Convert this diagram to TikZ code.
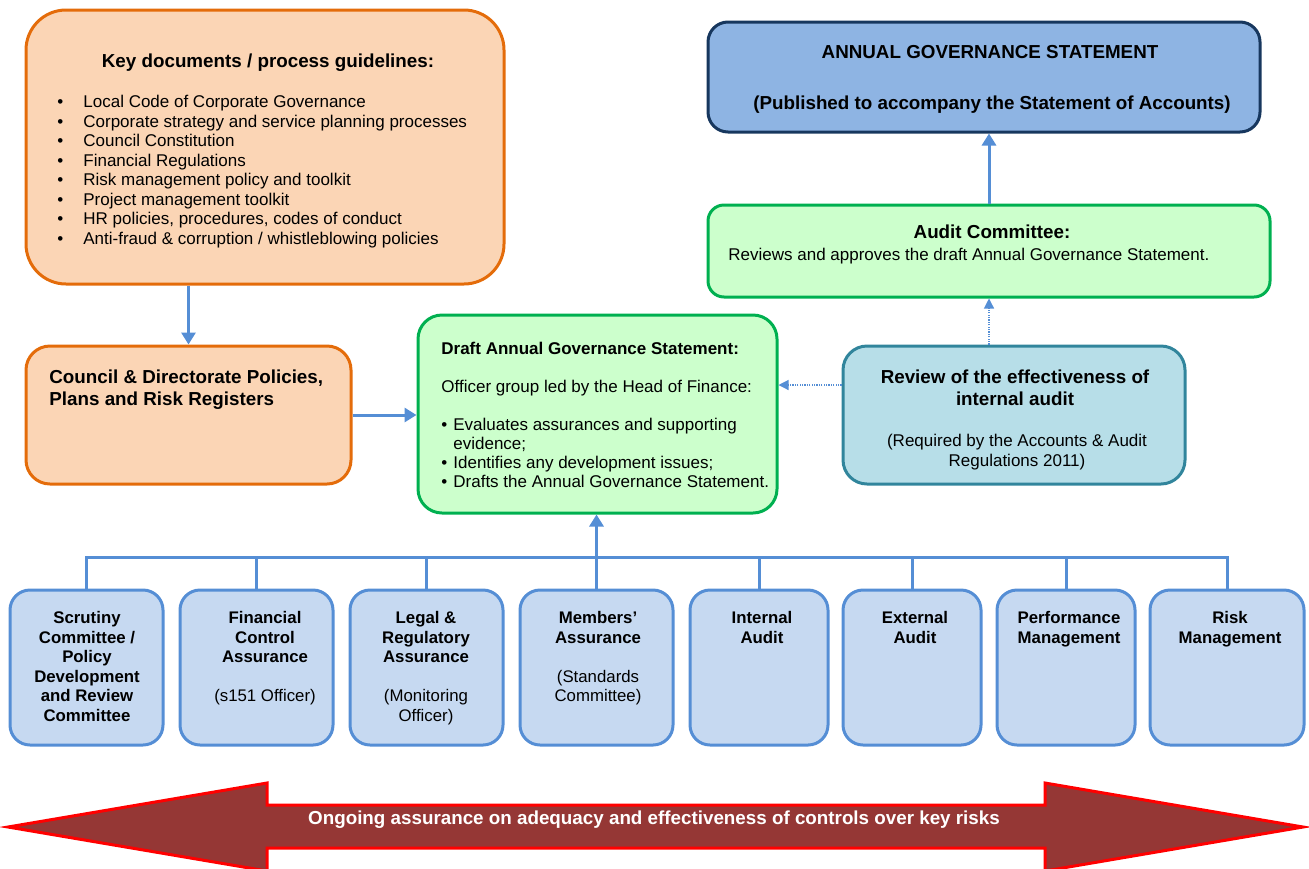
\documentclass[tikz,border=0pt]{standalone}
\usepackage{fontspec}
\setmainfont{Liberation Sans}
\definecolor{OrangeLine}{RGB}{228,108,10}
\definecolor{OrangeFill}{RGB}{251,213,181}
\definecolor{GreenLine}{RGB}{0,176,80}
\definecolor{GreenFill}{RGB}{204,255,204}
\definecolor{NavyLine}{RGB}{23,55,94}
\definecolor{StatementFill}{RGB}{142,180,227}
\definecolor{TealLine}{RGB}{49,133,156}
\definecolor{TealFill}{RGB}{183,222,232}
\definecolor{BlueLine}{RGB}{85,142,213}
\definecolor{BlueFill}{RGB}{198,217,241}
\definecolor{BandFill}{RGB}{149,55,53}
\usetikzlibrary{arrows.meta, positioning, calc}
\tikzstyle{box} = [draw, line width=1.5pt, inner sep=0pt]
\tikzstyle{txt} = [inner sep=0pt, align=left]
\tikzstyle{link} = [line width=1.5pt, BlueLine, -{Triangle[length=6pt, width=7pt]}]
\tikzstyle{dotlink} = [line width=0.6pt, BlueLine, dash pattern=on 0.6pt off 0.6pt, -{Triangle[length=5pt, width=5pt]}]
\newcommand{\bodyfont}{\fontsize{8.5}{9.75}\selectfont}
\newcommand{\headfont}{\fontsize{9.4}{11}\selectfont\bfseries}
\newcommand{\keybul}{\makebox[13pt][l]{\textbullet}}
\newcommand{\draftbul}{\makebox[6pt][l]{\textbullet}}

\begin{document}
\begin{tikzpicture}[x=0.5pt, y=-0.5pt]
                \useasboundingbox (0,0) rectangle (1309,868);

                % key documents and policies
                \node[box, draw=OrangeLine, fill=OrangeFill, rounded corners=20pt, minimum width=239pt, minimum height=137pt] (keydocs) at (265,147) {};
                \node[txt, anchor=north, font=\headfont] (keytitle) at (268,53) {Key documents / process guidelines:};
                \node[txt, anchor=north west, font=\bodyfont] (keylist) at (57,95) {\keybul Local Code of Corporate Governance\\
                    \keybul Corporate strategy and service planning processes\\
                    \keybul Council Constitution\\
                    \keybul Financial Regulations\\
                    \keybul Risk management policy and toolkit\\
                    \keybul Project management toolkit\\
                    \keybul HR policies, procedures, codes of conduct\\
                    \keybul Anti-fraud \& corruption / whistleblowing policies};

                \node[box, draw=OrangeLine, fill=OrangeFill, rounded corners=12pt, minimum width=162.5pt, minimum height=69pt] (council) at (188.5,415) {};
                \node[txt, anchor=north west, font=\headfont] (counciltext) at (49,369) {Council \& Directorate Policies,\\Plans and Risk Registers};

                % draft statement
                \node[box, draw=GreenLine, fill=GreenFill, rounded corners=12pt, minimum width=179.5pt, minimum height=99pt] (draft) at (597.5,414) {};
                \node[txt, anchor=north west, font=\fontsize{8.5}{9.5}\selectfont] (drafttext) at (441,342) {\textbf{Draft Annual Governance Statement:}\\[9.5pt]
                    Officer group led by the Head of Finance:\\[9.5pt]
                    \draftbul Evaluates assurances and supporting\\
                    \hspace*{6pt}evidence;\\
                    \draftbul Identifies any development issues;\\
                    \draftbul Drafts the Annual Governance Statement.};

                % statement and audit committee
                \node[box, draw=NavyLine, fill=StatementFill, rounded corners=10pt, minimum width=276pt, minimum height=55pt] (ags) at (984,77) {};
                \node[txt, anchor=north, font=\headfont] (agstitle) at (990,45) {ANNUAL GOVERNANCE STATEMENT};
                \node[txt, anchor=north, font=\headfont] (agsnote) at (992,95) {(Published to accompany the Statement of Accounts)};

                \node[box, draw=GreenLine, fill=GreenFill, rounded corners=8pt, minimum width=281pt, minimum height=46pt] (audit) at (989,251) {};
                \node[txt, anchor=north, font=\headfont] (audittitle) at (992,224) {Audit Committee:};
                \node[txt, anchor=north west, font=\bodyfont] (audittext) at (728,248) {Reviews and approves the draft Annual Governance Statement.};

                \node[box, draw=TealLine, fill=TealFill, rounded corners=12pt, minimum width=171pt, minimum height=69pt] (review) at (1014,415) {};
                \node[txt, align=center, anchor=north, font=\headfont] (reviewtitle) at (1015,369) {Review of the effectiveness of\\internal audit};
                \node[txt, align=center, anchor=north, font=\fontsize{8.5}{10}\selectfont] (reviewnote) at (1017,434) {(Required by the Accounts \& Audit\\Regulations 2011)};

                % assurance sources
                \foreach \i/\cx/\w in {1/86.5/76.5, 2/256.5/76.5, 3/426.5/76.5, 4/596.5/76.5, 5/759/69, 6/912/69, 7/1066/69, 8/1227/77}
                    \node[box, draw=BlueLine, fill=BlueFill, rounded corners=10pt, minimum width=\w pt, minimum height=77.5pt] (b\i) at (\cx,667.5) {};

                \foreach \i/\tx/\txt in {1/87/{Scrutiny\\Committee /\\Policy\\Development\\and Review\\Committee},
                        2/265/{Financial\\Control\\Assurance\\[9.8pt]\textmd{(s151 Officer)}},
                        3/426/{Legal \&\\Regulatory\\Assurance\\[9.8pt]\textmd{(Monitoring}\\\textmd{Officer)}},
                        4/598/{Members'\\Assurance\\[9.8pt]\textmd{(Standards}\\\textmd{Committee)}},
                        5/762/{Internal\\Audit},
                        6/915/{External\\Audit},
                        7/1069/{Performance\\Management},
                        8/1230/{Risk\\Management}}
                    \node[txt, align=center, anchor=north, font=\fontsize{8.4}{9.8}\selectfont\bfseries] (t\i) at (\tx,611) {\txt};

                % connectors
                \coordinate (bus) at (589,557);
                \draw[BlueLine, line width=1.5pt] (b1.north) -- (b1.north |- bus) -- (b8.north |- bus) -- (b8.north);
                \foreach \i in {2,...,7}
                    \draw[BlueLine, line width=1.5pt] (b\i.north) -- (b\i.north |- bus);
                \draw[link] (b4.north |- bus) -- (b4.north |- draft.south);

                \draw[link] (keydocs.south -| council.north) -- (council.north);
                \draw[link] (council.east) -- (council.east -| draft.west);
                \draw[dotlink] ([yshift=15pt]review.west) -- ([yshift=15pt]review.west -| draft.east);
                \draw[dotlink] (review.north -| audit.south) -- (audit.south);
                \draw[link] (audit.north) -- (audit.north |- ags.south);

                % ongoing assurance band
                \draw[line width=1.5pt, draw=red, fill=BandFill, line join=miter] (8,827) -- (267,783) -- (267,805) -- (1045,805) -- (1045,783) -- (1303,827) -- (1045,871) -- (1045,848) -- (267,848) -- (267,871) -- cycle;
                \node[txt, font=\fontsize{9.4}{11}\selectfont\bfseries, text=white] (bandtext) at (654,820) {Ongoing assurance on adequacy and effectiveness of controls over key risks};
            \end{tikzpicture}
\end{document}
